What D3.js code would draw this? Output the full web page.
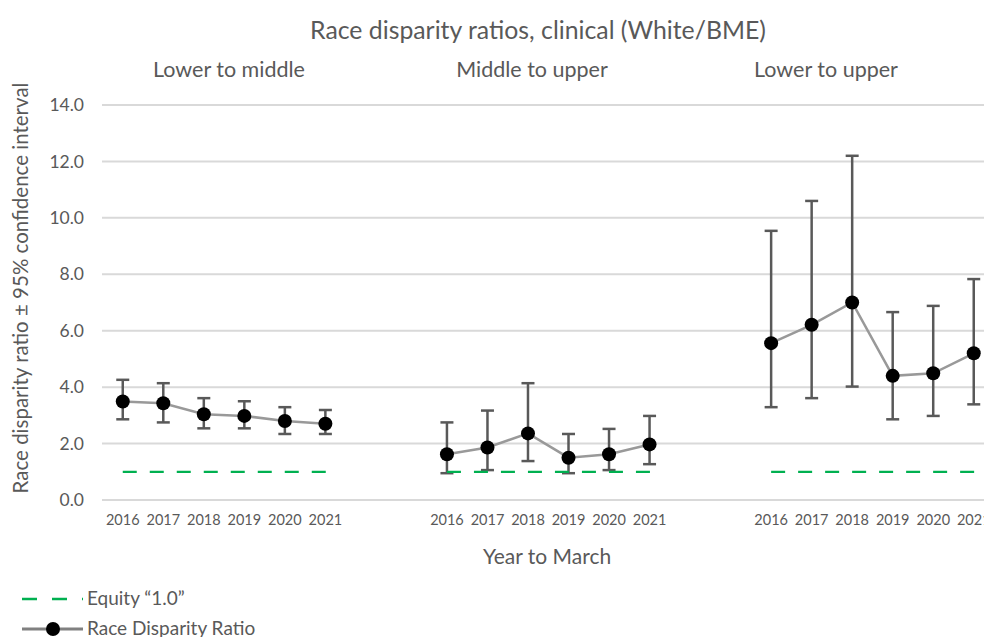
<!DOCTYPE html>
<html>
<head>
<meta charset="utf-8">
<script src="https://cdn.jsdelivr.net/npm/d3@7"></script>
<style>
  html, body { margin: 0; padding: 0; background: #ffffff; overflow: hidden; }
  svg { display: block; font-family: Lato, "Open Sans", sans-serif; }
</style>
</head>
<body>
<svg id="chart" width="984" height="637"></svg>
<script>
// ---------- data ----------
const chartTitle = "Race disparity ratios, clinical (White/BME)";
const panels = ["Lower to middle", "Middle to upper", "Lower to upper"];
const years = ["2016", "2017", "2018", "2019", "2020", "2021"];

const ratioLowerMiddle = [3.49, 3.43, 3.04, 2.98, 2.80, 2.70];
const upperLowerMiddle = [4.26, 4.14, 3.61, 3.50, 3.29, 3.19];
const lowerLowerMiddle = [2.86, 2.75, 2.54, 2.54, 2.34, 2.34];

const ratioMiddleUpper = [1.62, 1.86, 2.36, 1.50, 1.62, 1.97];
const upperMiddleUpper = [2.75, 3.17, 4.14, 2.34, 2.52, 2.98];
const lowerMiddleUpper = [0.95, 1.06, 1.38, 0.95, 1.06, 1.27];

const ratioLowerUpper = [5.56, 6.21, 7.00, 4.40, 4.49, 5.20];
const upperLowerUpper = [9.54, 10.60, 12.20, 6.66, 6.88, 7.83];
const lowerLowerUpper = [3.29, 3.61, 4.02, 2.86, 2.98, 3.39];

const equityValue = 1.0;
const yTicks = [0, 2, 4, 6, 8, 10, 12, 14];
const xAxisTitle = "Year to March";
const yAxisTitle = "Race disparity ratio \u00B1 95% confidence interval";
const legendLabels = ["Equity \u201C1.0\u201D", "Race Disparity Ratio"];

const seriesRatio = [ratioLowerMiddle, ratioMiddleUpper, ratioLowerUpper];
const seriesUpper = [upperLowerMiddle, upperMiddleUpper, upperLowerUpper];
const seriesLower = [lowerLowerMiddle, lowerMiddleUpper, lowerLowerUpper];

// ---------- build slots (6 years per panel, 2 empty slots between panels) ----------
const slots = [];
panels.forEach((p, pi) => {
  years.forEach(y => slots.push(pi + "|" + y));
  if (pi < panels.length - 1) { slots.push("gap" + pi + "a"); slots.push("gap" + pi + "b"); }
});

const svg = d3.select("#chart");
const textColor = "#595959";

const x = d3.scaleBand().domain(slots).range([102.5, 994]).paddingInner(0).paddingOuter(0);
const y = d3.scaleLinear().domain([0, 14]).range([500, 105]);
const cx = k => x(k) + x.bandwidth() / 2;

// gridlines
svg.append("g").selectAll("line").data(yTicks).join("line")
  .attr("x1", 102).attr("x2", 984)
  .attr("y1", d => y(d)).attr("y2", d => y(d))
  .attr("stroke", "#d9d9d9").attr("stroke-width", 2);

// y tick labels
const yAxis = d3.axisLeft(y).tickValues(yTicks).tickFormat(d3.format(".1f")).tickSize(0).tickPadding(0);
const yg = svg.append("g").attr("transform", "translate(84,0)").call(yAxis);
yg.select(".domain").remove();
yg.selectAll("text").attr("fill", textColor).attr("font-size", 17.5)
  .attr("font-family", "Lato, sans-serif");

// x tick labels
const xAxis = d3.axisBottom(x).tickValues(slots.filter(s => !s.startsWith("gap")))
  .tickFormat(s => s.split("|")[1]).tickSize(0).tickPadding(0);
const xg = svg.append("g").attr("transform", "translate(0,515)").call(xAxis);
xg.select(".domain").remove();
xg.selectAll("text").attr("fill", textColor).attr("font-size", 14.5)
  .attr("font-family", "Lato, sans-serif");

// title & panel labels
svg.append("text").text(chartTitle).attr("x", 538).attr("y", 39)
  .attr("text-anchor", "middle").attr("fill", textColor).attr("font-size", 24.8);

const panelLabelX = [229, 532, 826];
svg.append("g").selectAll("text").data(panels).join("text")
  .text(d => d).attr("x", (d, i) => panelLabelX[i]).attr("y", 77)
  .attr("text-anchor", "middle").attr("fill", textColor).attr("font-size", 21.5);

// axis titles
svg.append("text").text(xAxisTitle).attr("x", 547).attr("y", 564)
  .attr("text-anchor", "middle").attr("fill", textColor).attr("font-size", 21);
svg.append("text").text(yAxisTitle)
  .attr("transform", "translate(28,288) rotate(-90)")
  .attr("text-anchor", "middle").attr("fill", textColor).attr("font-size", 20.5);

// panels
panels.forEach((p, pi) => {
  const keys = years.map(yr => pi + "|" + yr);
  const pts = keys.map((k, i) => ({ k, v: seriesRatio[pi][i], hi: seriesUpper[pi][i], lo: seriesLower[pi][i] }));
  const g = svg.append("g");

  // connecting line
  g.append("path").datum(pts)
    .attr("d", d3.line().x(d => cx(d.k)).y(d => y(d.v)))
    .attr("fill", "none").attr("stroke", "#999999").attr("stroke-width", 2.5);

  // error bars
  const eb = g.append("g").attr("stroke", "#595959").attr("stroke-width", 2.5);
  eb.selectAll("line.v").data(pts).join("line").attr("class", "v")
    .attr("x1", d => cx(d.k)).attr("x2", d => cx(d.k))
    .attr("y1", d => y(d.hi)).attr("y2", d => y(d.lo));
  eb.selectAll("line.hi").data(pts).join("line").attr("class", "hi")
    .attr("x1", d => cx(d.k) - 6.5).attr("x2", d => cx(d.k) + 6.5)
    .attr("y1", d => y(d.hi)).attr("y2", d => y(d.hi));
  eb.selectAll("line.lo").data(pts).join("line").attr("class", "lo")
    .attr("x1", d => cx(d.k) - 6.5).attr("x2", d => cx(d.k) + 6.5)
    .attr("y1", d => y(d.lo)).attr("y2", d => y(d.lo));

  // equity line
  g.append("line")
    .attr("x1", cx(keys[0])).attr("x2", cx(keys[keys.length - 1]) + 2)
    .attr("y1", y(equityValue)).attr("y2", y(equityValue))
    .attr("stroke", "#00b050").attr("stroke-width", 2.2)
    .attr("stroke-dasharray", "14 13").attr("stroke-dashoffset", 0);

  // markers
  g.selectAll("circle").data(pts).join("circle")
    .attr("cx", d => cx(d.k)).attr("cy", d => y(d.v)).attr("r", 7)
    .attr("fill", "#000000");
});

// legend
const lg = svg.append("g");
lg.append("line").attr("x1", 22).attr("x2", 83).attr("y1", 599).attr("y2", 599)
  .attr("stroke", "#00b050").attr("stroke-width", 2.5).attr("stroke-dasharray", "15 15");
lg.append("text").text(legendLabels[0]).attr("x", 87).attr("y", 605)
  .attr("fill", textColor).attr("font-size", 19);
lg.append("line").attr("x1", 22).attr("x2", 83).attr("y1", 629).attr("y2", 629)
  .attr("stroke", "#808080").attr("stroke-width", 3);
lg.append("circle").attr("cx", 53).attr("cy", 629).attr("r", 7).attr("fill", "#000000");
lg.append("text").text(legendLabels[1]).attr("x", 87).attr("y", 635)
  .attr("fill", textColor).attr("font-size", 19);
</script>
</body>
</html>
